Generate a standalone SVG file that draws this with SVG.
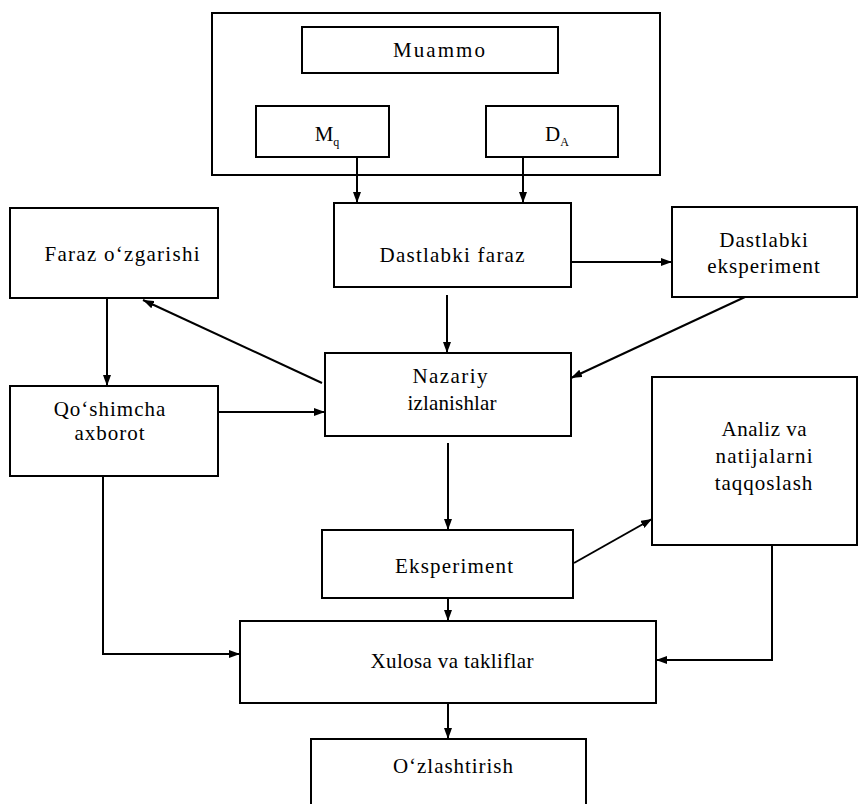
<svg xmlns="http://www.w3.org/2000/svg" width="861" height="804" viewBox="0 0 861 804">
<style>
  .box { fill: #ffffff; stroke: #000000; stroke-width: 2; }
  .t { font-family: "Liberation Serif", "Times New Roman", serif; font-size: 21px; fill: #000000; text-anchor: middle; }
  .ls { letter-spacing: 1px; }
  .sub { font-size: 12px; }
  .con { fill: none; stroke: #000000; stroke-width: 2; }
</style>
<defs>
  <marker id="arr" markerUnits="userSpaceOnUse" markerWidth="11" markerHeight="8" refX="11" refY="4" orient="auto">
    <path d="M0,0 L11,4 L0,8 z" fill="#000000"/>
  </marker>
</defs>
<rect x="0" y="0" width="861" height="804" fill="#ffffff"/>

<g id="problem-frame">
  <rect class="box" x="212" y="13" width="448" height="162"/>
</g>
<g id="muammo">
  <rect class="box" x="302" y="27" width="256" height="46"/>
  <text class="t" x="439" y="57" textLength="92" lengthAdjust="spacing">Muammo</text>
</g>
<g id="mq">
  <rect class="box" x="256" y="106" width="133" height="51"/>
  <text class="t" x="327" y="141">M<tspan class="sub" dy="5">q</tspan></text>
</g>
<g id="da">
  <rect class="box" x="486" y="106" width="132" height="51"/>
  <text class="t" x="557" y="141">D<tspan class="sub" dy="5">A</tspan></text>
</g>

<g id="dastlabki-faraz">
  <rect class="box" x="334" y="203" width="237" height="84"/>
  <text class="t" x="452" y="262" textLength="145" lengthAdjust="spacing">Dastlabki faraz</text>
</g>
<g id="dastlabki-eksperiment">
  <rect class="box" x="672" y="207" width="185" height="90"/>
  <text class="t ls" x="764" y="247">Dastlabki</text>
  <text class="t ls" x="764" y="273">eksperiment</text>
</g>
<g id="faraz-ozgarishi">
  <rect class="box" x="10" y="208" width="208" height="90"/>
  <text class="t" x="122" y="261" textLength="155" lengthAdjust="spacing">Faraz o‘zgarishi</text>
</g>
<g id="nazariy">
  <rect class="box" x="325" y="353" width="246" height="83"/>
  <text class="t" x="450" y="383" textLength="75" lengthAdjust="spacing">Nazariy</text>
  <text class="t" x="452" y="410" textLength="89" lengthAdjust="spacing">izlanishlar</text>
</g>
<g id="qoshimcha">
  <rect class="box" x="10" y="386" width="208" height="90"/>
  <text class="t ls" x="110" y="416">Qo‘shimcha</text>
  <text class="t ls" x="110" y="440">axborot</text>
</g>
<g id="analiz">
  <rect class="box" x="652" y="377" width="205" height="168"/>
  <text class="t" x="764" y="436" textLength="85" lengthAdjust="spacing">Analiz va</text>
  <text class="t" x="764" y="463" textLength="97" lengthAdjust="spacing">natijalarni</text>
  <text class="t ls" x="764" y="490">taqqoslash</text>
</g>
<g id="eksperiment">
  <rect class="box" x="322" y="530" width="251" height="68"/>
  <text class="t" x="454" y="573" textLength="118" lengthAdjust="spacing">Eksperiment</text>
</g>
<g id="xulosa">
  <rect class="box" x="240" y="621" width="416" height="82"/>
  <text class="t" x="452" y="668" textLength="163" lengthAdjust="spacing">Xulosa va takliflar</text>
</g>
<g id="ozlashtirish">
  <rect class="box" x="311" y="739" width="275" height="90"/>
  <text class="t" x="453" y="773" textLength="120" lengthAdjust="spacing">O‘zlashtirish</text>
</g>

<g id="connectors">
  <path class="con" d="M357,157 V203" marker-end="url(#arr)"/>
  <path class="con" d="M523,157 V203" marker-end="url(#arr)"/>
  <path class="con" d="M571,262 H672" marker-end="url(#arr)"/>
  <path class="con" d="M447,295 V353" marker-end="url(#arr)"/>
  <path class="con" d="M745,297 L571,378" marker-end="url(#arr)"/>
  <path class="con" d="M322,383 L143,300" marker-end="url(#arr)"/>
  <path class="con" d="M107,298 V386" marker-end="url(#arr)"/>
  <path class="con" d="M218,412 H325" marker-end="url(#arr)"/>
  <path class="con" d="M448,443 V530" marker-end="url(#arr)"/>
  <path class="con" d="M574,563 L652,519" marker-end="url(#arr)"/>
  <path class="con" d="M448,598 V621" marker-end="url(#arr)"/>
  <path class="con" d="M103,476 V654 H240" marker-end="url(#arr)"/>
  <path class="con" d="M772,545 V660 H656" marker-end="url(#arr)"/>
  <path class="con" d="M448,703 V739" marker-end="url(#arr)"/>
</g>
</svg>
